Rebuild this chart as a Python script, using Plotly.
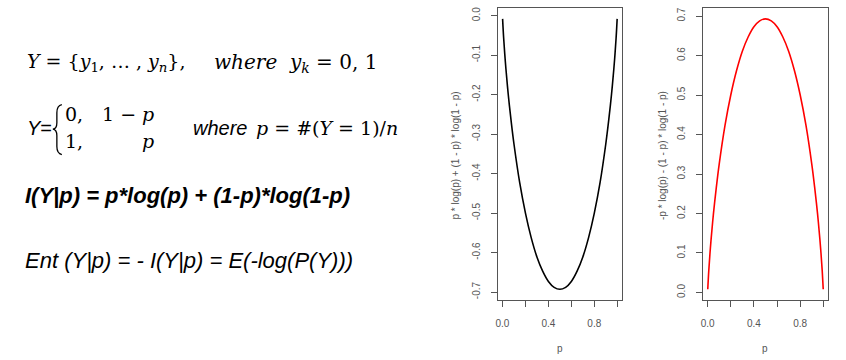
import plotly.graph_objects as go

# ---- data ----
p_vals = [0.001, 0.01, 0.02, 0.03, 0.05, 0.075, 0.1, 0.15, 0.2, 0.25, 0.3, 0.35, 0.4, 0.45, 0.5,
          0.55, 0.6, 0.65, 0.7, 0.75, 0.8, 0.85, 0.9, 0.925, 0.95, 0.97, 0.98, 0.99, 0.999]
neg_ent = [-0.008, -0.056, -0.098, -0.135, -0.199, -0.266, -0.325, -0.423, -0.500, -0.562, -0.611,
           -0.647, -0.673, -0.688, -0.693, -0.688, -0.673, -0.647, -0.611, -0.562, -0.500, -0.423,
           -0.325, -0.266, -0.199, -0.135, -0.098, -0.056, -0.008]
ent = [0.008, 0.056, 0.098, 0.135, 0.199, 0.266, 0.325, 0.423, 0.500, 0.562, 0.611,
       0.647, 0.673, 0.688, 0.693, 0.688, 0.673, 0.647, 0.611, 0.562, 0.500, 0.423,
       0.325, 0.266, 0.199, 0.135, 0.098, 0.056, 0.008]

x_ticks = [0, 0.4, 0.8]
x_ticktext = ["0.0", "0.4", "0.8"]
x_minor_ticks = [0.2, 0.6, 1.0]
y1_ticks = [-0.7, -0.6, -0.5, -0.4, -0.3, -0.2, -0.1, 0.0]
y1_ticktext = ["-0.7", "-0.6", "-0.5", "-0.4", "-0.3", "-0.2", "-0.1", "0.0"]
y2_ticks = [0.0, 0.1, 0.2, 0.3, 0.4, 0.5, 0.6, 0.7]
y2_ticktext = ["0.0", "0.1", "0.2", "0.3", "0.4", "0.5", "0.6", "0.7"]

W, H = 846, 360
def fx(px):
    return px / W
def fy(py):
    return 1 - py / H

fig = go.Figure()
fig.add_trace(go.Scatter(x=p_vals, y=neg_ent, mode="lines", line=dict(color="black", width=1.6, shape="spline"),
                         xaxis="x", yaxis="y", showlegend=False, hoverinfo="skip"))
fig.add_trace(go.Scatter(x=p_vals, y=ent, mode="lines", line=dict(color="#ff0000", width=1.6, shape="spline"),
                         xaxis="x2", yaxis="y2", showlegend=False, hoverinfo="skip"))

axis_common = dict(showline=True, mirror=True, linecolor="#555555", linewidth=1,
                   ticks="outside", ticklen=6, tickcolor="#555555", tickwidth=1,
                   showgrid=False, zeroline=False, fixedrange=True,
                   tickfont=dict(family="Liberation Sans, Arial", size=10, color="#555555"))
minor_x = dict(tickvals=x_minor_ticks, ticks="outside", ticklen=6, tickcolor="#555555", tickwidth=1, showgrid=False)

xr = [-0.0389, 1.0389]
fig.update_layout(
    width=W, height=H, margin=dict(l=0, r=0, t=0, b=0),
    paper_bgcolor="white", plot_bgcolor="white",
    xaxis=dict(domain=[fx(497.2), fx(621.2)], range=xr, anchor="y", minor=minor_x,
               tickvals=x_ticks, ticktext=x_ticktext, ticklabelstandoff=8, **axis_common),
    yaxis=dict(domain=[fy(300), fy(7)], range=[-0.7205, 0.0195], anchor="x",
               tickvals=y1_ticks, ticktext=y1_ticktext, tickangle=-90, ticklabelstandoff=7, **axis_common),
    xaxis2=dict(domain=[fx(702.8), fx(827.8)], range=xr, anchor="y2", minor=minor_x,
                tickvals=x_ticks, ticktext=x_ticktext, ticklabelstandoff=8, **axis_common),
    yaxis2=dict(domain=[fy(300), fy(7)], range=[-0.0195, 0.7205], anchor="x2",
                tickvals=y2_ticks, ticktext=y2_ticktext, tickangle=-90, ticklabelstandoff=7, **axis_common),
)

ann = []
lab_font = dict(family="Liberation Sans, Arial", size=10, color="#555555")
# axis titles
ann.append(dict(text="p", x=fx(559), y=fy(348), font=lab_font))
ann.append(dict(text="p", x=fx(765), y=fy(348), font=lab_font))
ann.append(dict(text="p * log(p) + (1 - p) * log(1 - p)", x=fx(455), y=fy(155), textangle=-90, font=lab_font))
ann.append(dict(text="-p * log(p) - (1 - p) * log(1 - p)", x=fx(662), y=fy(155), textangle=-90, font=lab_font))

serif = dict(family="DejaVu Serif", size=19, color="black")
sans_i = dict(family="Liberation Sans, Arial", size=20, color="black")
# line 1
ann.append(dict(text="<i>Y</i> = {<i>y</i><sub>1</sub>, … , <i>y<sub>n</sub></i>},", x=fx(23), y=fy(62),
                xanchor="left", font=serif))
ann.append(dict(text="<i>where  y<sub>k</sub></i> = 0, 1", x=fx(210), y=fy(62), xanchor="left",
                font=dict(family="DejaVu Serif", size=20, color="black")))
# line 2
ann.append(dict(text="<i>Y</i>=", x=fx(23), y=fy(127), xanchor="left", font=sans_i))
ann.append(dict(text="0,", x=fx(61), y=fy(113), xanchor="left", font=serif))
ann.append(dict(text="1 − <i>p</i>", x=fx(154), y=fy(113), xanchor="right", font=serif))
ann.append(dict(text="1,", x=fx(61), y=fy(140), xanchor="left", font=serif))
ann.append(dict(text="<i>p</i>", x=fx(154), y=fy(140), xanchor="right", font=serif))
ann.append(dict(text="<i>where</i>", x=fx(189), y=fy(127), xanchor="left", font=sans_i))
ann.append(dict(text="<i>p</i> = #(<i>Y</i> = 1)/<i>n</i>", x=fx(253), y=fy(127), xanchor="left", font=serif))
# line 3
ann.append(dict(text="<b><i>I(Y|p) = p*log(p) + (1-p)*log(1-p)</i></b>", x=fx(21), y=fy(195),
                xanchor="left", font=dict(family="Liberation Sans, Arial", size=22, color="black")))
# line 4
ann.append(dict(text="<i>Ent (Y|p) = - I(Y|p) = E(-log(P(Y)))</i>", x=fx(21), y=fy(260),
                xanchor="left", font=dict(family="Liberation Sans, Arial", size=22, color="black")))

for a in ann:
    a.update(xref="paper", yref="paper", showarrow=False)
    a.setdefault("xanchor", "center")
    a.setdefault("yanchor", "middle")

# curly brace of the case definition (decoration)
def P(x, y):
    return f"{fx(x):.5f},{fy(y):.5f}"
brace = (f"M {P(60,104)} Q {P(55,105)} {P(55,112)} L {P(55,122)} Q {P(55,128)} {P(51,128.5)} "
         f"Q {P(55,129)} {P(55,135)} L {P(55,146)} Q {P(55,153)} {P(60,154)}")
fig.update_layout(annotations=ann,
                  shapes=[dict(type="path", xref="paper", yref="paper", path=brace,
                               line=dict(color="black", width=1.3))])

fig.write_html("out.html", config={"displayModeBar": False},
               post_script="document.body.style.margin='0';")
